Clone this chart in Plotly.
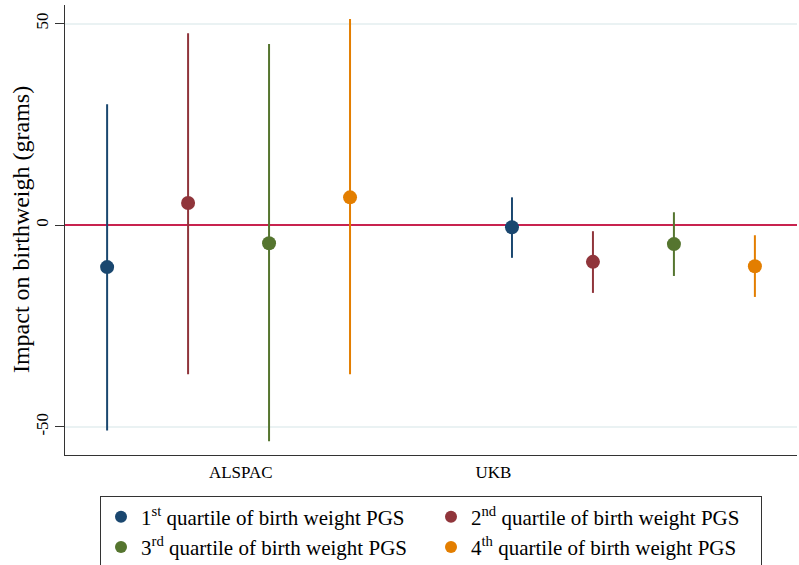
import plotly.graph_objects as go

groups = ["ALSPAC", "UKB"]
quartiles = ["1<sup>st</sup> quartile of birth weight PGS",
             "2<sup>nd</sup> quartile of birth weight PGS",
             "3<sup>rd</sup> quartile of birth weight PGS",
             "4<sup>th</sup> quartile of birth weight PGS"]
colors = ["#1a476f", "#90353b", "#55752f", "#e37e00"]
y_title = "Impact on birthweigh (grams)"

# estimates per quartile: [ALSPAC, UKB]
est = [[-10.4, -0.5], [5.5, -9.1], [-4.5, -4.7], [6.9, -10.2]]
upper = [[30.0, 6.9], [47.6, -1.5], [44.9, 3.2], [51.1, -2.5]]
lower = [[-50.9, -8.1], [-37.0, -16.8], [-53.6, -12.6], [-37.0, -17.8]]

ytick_vals = [-50, 0, 50]
group_label_pos = [2.65, 5.77]

fig = go.Figure()
for q in range(4):
    xs = [g * 5 + q + 1 for g in range(len(groups))]
    ys = est[q]
    fig.add_trace(go.Scatter(
        x=xs, y=ys, mode="markers", name=quartiles[q],
        marker=dict(color=colors[q], size=14),
        error_y=dict(type="data", symmetric=False,
                     array=[u - y for u, y in zip(upper[q], ys)],
                     arrayminus=[y - l for l, y in zip(lower[q], ys)],
                     color=colors[q], thickness=2, width=0),
    ))

font = "Liberation Serif, serif"
fig.update_layout(
    width=799, height=565,
    margin=dict(l=65, r=2, t=5, b=110, autoexpand=False),
    paper_bgcolor="white", plot_bgcolor="white",
    font=dict(family=font, color="black", size=17),
    showlegend=True,
    legend=dict(orientation="h", x=0.5, xanchor="center", y=-0.09, yanchor="top",
                entrywidth=285, bordercolor="#333333", borderwidth=1,
                font=dict(family=font, size=21, color="black"),
                itemsizing="constant", tracegroupgap=0),
    xaxis=dict(range=[0.48, 9.52], tickvals=group_label_pos, ticktext=groups,
               showgrid=False, zeroline=False, showline=True, linecolor="#333333",
               linewidth=1, ticks="", tickfont=dict(family=font, size=17),
               ticklabelstandoff=2, automargin=False),
    yaxis=dict(range=[-57, 54.6], tickvals=ytick_vals, ticktext=[str(v) for v in ytick_vals],
               tickangle=-90, showgrid=True, gridcolor="#eaf2f3", gridwidth=1.5,
               zeroline=True, zerolinecolor="#c8234f", zerolinewidth=2,
               showline=True, linecolor="#333333", linewidth=1,
               ticks="outside", ticklen=9, tickcolor="#333333",
               tickfont=dict(family=font, size=17), automargin=False),
    annotations=[dict(text=y_title, xref="paper", yref="paper", x=-0.060, y=0.5,
                      xanchor="center", yanchor="middle", textangle=-90, showarrow=False,
                      font=dict(family=font, size=24, color="black"))],
)
fig.write_html("out.html", config={"displayModeBar": False},
               post_script="document.body.style.margin='0';")
